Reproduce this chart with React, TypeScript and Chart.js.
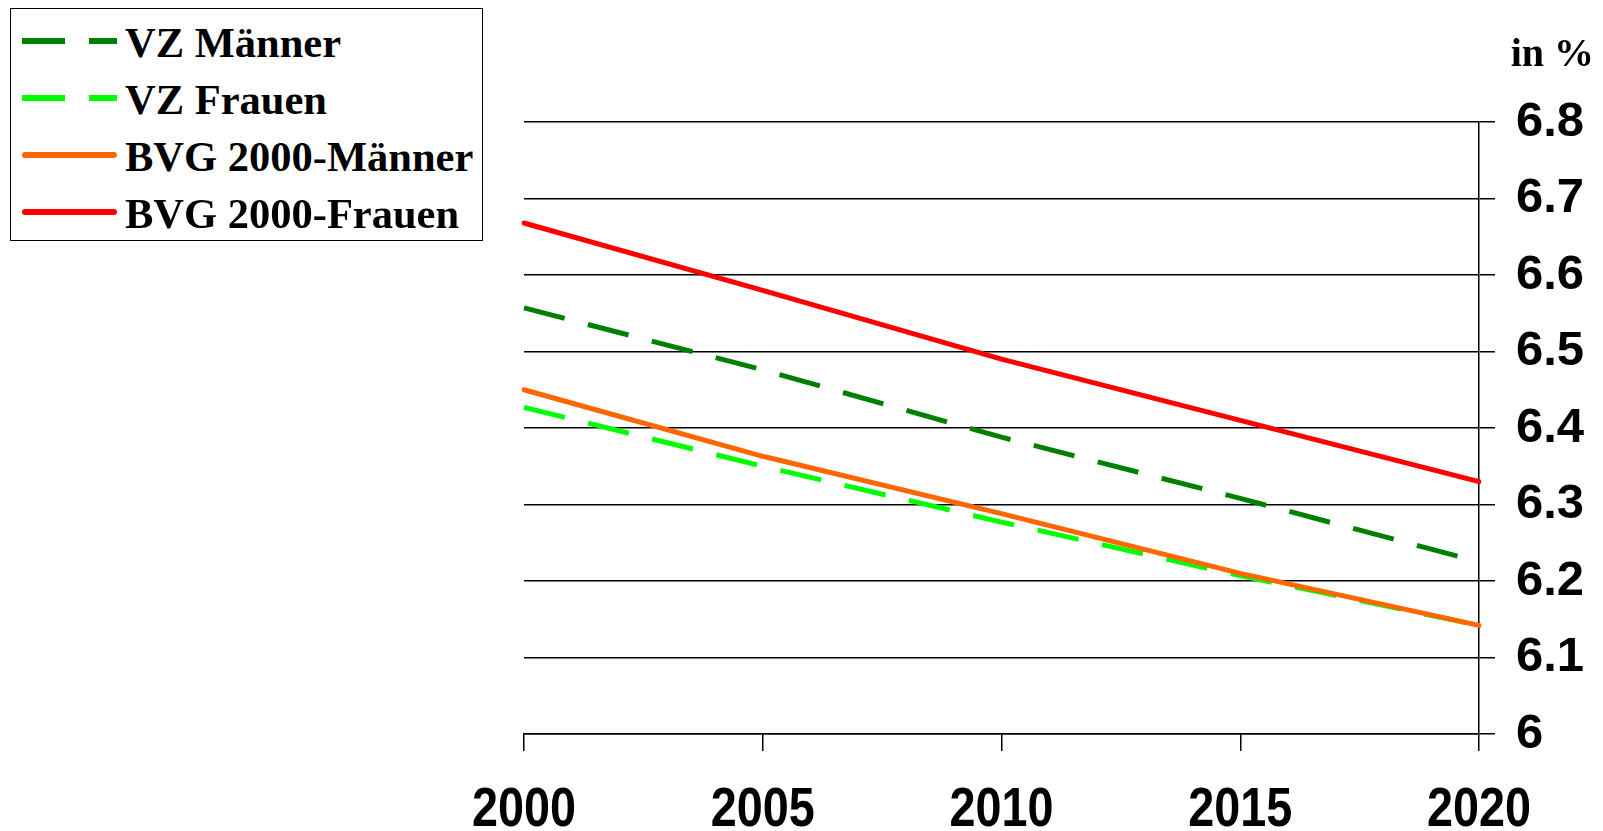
import React, { useEffect, useRef } from "react";
import { Chart, registerables } from "chart.js";

Chart.register(...registerables);

// Years on the horizontal axis
const years = ["2000", "2005", "2010", "2015", "2020"];

// Conversion rates in % per series
const vzMaenner = [6.557, 6.476, 6.388, 6.308, 6.225];
const vzFrauen = [6.427, 6.35, 6.277, 6.207, 6.142];
const bvgMaenner = [6.45, 6.363, 6.288, 6.21, 6.142];
const bvgFrauen = [6.668, 6.58, 6.49, 6.41, 6.33];

// Right axis tick labels, bottom to top
const yTickLabels = ["6", "6.1", "6.2", "6.3", "6.4", "6.5", "6.6", "6.7", "6.8"];

const seriesNames = ["VZ Männer", "VZ Frauen", "BVG 2000-Männer", "BVG 2000-Frauen"];
const seriesColors = ["#008000", "#00FF00", "#FF6600", "#FF0000"];
const seriesDashed = [true, true, false, false];

const unitLabel = "in %";

const W = 1603;
const H = 831;

// Unit caption above the right axis
const unitPlugin = {
  id: "unitLabel",
  afterDraw(chart: any) {
    const ctx = chart.ctx;
    ctx.save();
    ctx.font = "bold 40px 'Liberation Serif'";
    ctx.fillStyle = "#000";
    ctx.textAlign = "right";
    ctx.textBaseline = "alphabetic";
    ctx.fillText(unitLabel, 1594, 66);
    ctx.restore();
  },
};

// Condensed year labels under the x axis ticks
const yearLabelPlugin = {
  id: "yearLabels",
  afterDraw(chart: any) {
    const ctx = chart.ctx;
    const xs = chart.scales.x;
    ctx.save();
    ctx.font = "bold 55px 'Liberation Sans'";
    ctx.fillStyle = "#000";
    ctx.textAlign = "center";
    ctx.textBaseline = "alphabetic";
    xs.ticks.forEach((_t: any, i: number) => {
      const px = xs.getPixelForTick(i);
      ctx.save();
      ctx.translate(px, 826);
      ctx.scale(0.85, 1);
      ctx.fillText(String(xs.getLabelForValue(i)), 0, 0);
      ctx.restore();
    });
    ctx.restore();
  },
};

export default function App() {
  const canvasRef = useRef<HTMLCanvasElement | null>(null);

  useEffect(() => {
    document.body.style.margin = "0";
    const canvas = canvasRef.current;
    if (!canvas) return;
    const allValues = [vzMaenner, vzFrauen, bvgMaenner, bvgFrauen];
    const drawOrder = [3, 4, 1, 2];
    const chart = new Chart(canvas, {
      type: "line",
      data: {
        labels: years,
        datasets: allValues.map((vals, i) => ({
          label: seriesNames[i],
          data: vals,
          borderColor: seriesColors[i],
          backgroundColor: seriesColors[i],
          borderWidth: 5,
          borderDash: seriesDashed[i] ? [42, 24] : [],
          borderCapStyle: seriesDashed[i] ? "butt" : "round",
          borderJoinStyle: "round",
          pointRadius: 0,
          pointHoverRadius: 0,
          tension: 0,
          fill: false,
          order: drawOrder[i],
        })) as any,
      },
      options: {
        responsive: false,
        animation: false,
        devicePixelRatio: 1,
        layout: { padding: { left: 524, top: 122, right: 0, bottom: 0 } },
        plugins: {
          legend: { display: false },
          tooltip: { enabled: false },
        },
        scales: {
          x: {
            type: "category",
            offset: false,
            grid: {
              display: true,
              drawOnChartArea: false,
              drawTicks: true,
              tickLength: 17,
              color: "#000",
              lineWidth: 1.5,
            },
            border: { display: true, color: "#000", width: 1.5 },
            ticks: {
              display: false,
              autoSkip: false,
              maxRotation: 0,
            },
            afterFit(scale: any) {
              scale.height = 97;
            },
          },
          y: {
            type: "linear",
            position: "right",
            min: 6,
            max: 6.8,
            ticks: {
              stepSize: 0.1,
              color: "#000",
              padding: 21,
              font: { family: "'Liberation Sans'", size: 49, weight: "bold", lineHeight: 1 },
              callback: (_v: any, idx: number) => yTickLabels[idx],
            },
            grid: {
              color: "#000",
              lineWidth: 1.5,
              tickLength: 16,
              drawTicks: true,
            },
            border: { display: true, color: "#000", width: 1.5 },
            afterFit(scale: any) {
              scale.width = 124;
            },
          },
        },
      } as any,
      plugins: [unitPlugin, yearLabelPlugin],
    });
    return () => chart.destroy();
  }, []);

  const rowTop = [32, 89, 146, 203];

  return (
    <div style={{ position: "relative", width: W, height: H, background: "#fff", overflow: "hidden" }}>
      <canvas ref={canvasRef} width={W} height={H} style={{ display: "block", width: W, height: H }} />
      <div
        style={{
          position: "absolute",
          left: 10,
          top: 8,
          width: 471,
          height: 231,
          border: "1.5px solid #000",
          background: "#fff",
        }}
      >
        {seriesNames.map((name, i) => (
          <div key={name} style={{ position: "absolute", left: 0, top: rowTop[i] - 28, height: 56, width: 470 }}>
            <svg width={97} height={56} style={{ position: "absolute", left: 10, top: 0 }}>
              {seriesDashed[i] ? (
                <line
                  x1={1}
                  y1={28}
                  x2={96}
                  y2={28}
                  stroke={seriesColors[i]}
                  strokeWidth={6}
                  strokeDasharray="43 24"
                />
              ) : (
                <line
                  x1={4}
                  y1={28}
                  x2={93}
                  y2={28}
                  stroke={seriesColors[i]}
                  strokeWidth={6}
                  strokeLinecap="round"
                />
              )}
            </svg>
            <div
              style={{
                position: "absolute",
                left: 114,
                top: 2,
                height: 56,
                lineHeight: "56px",
                fontFamily: "'Liberation Serif'",
                fontWeight: "bold",
                fontSize: 42.5,
                color: "#000",
                whiteSpace: "nowrap",
              }}
            >
              {name}
            </div>
          </div>
        ))}
      </div>
    </div>
  );
}
